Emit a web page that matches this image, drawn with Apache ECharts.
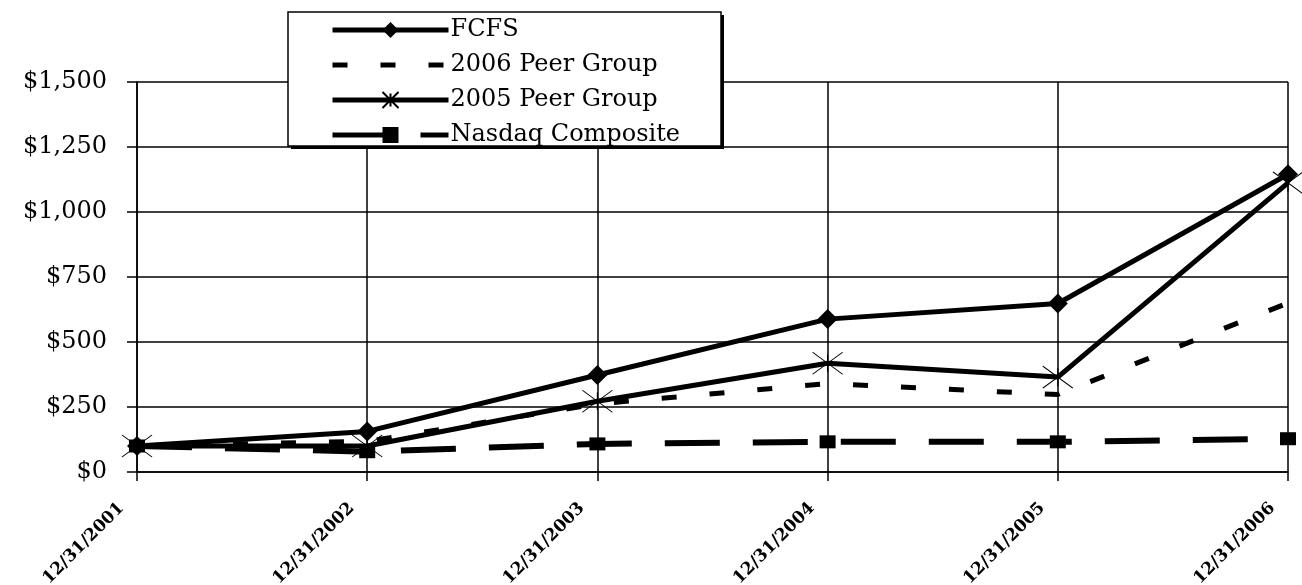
<!DOCTYPE html>
<html><head><meta charset="utf-8">
<script src="https://cdn.jsdelivr.net/npm/echarts@6/dist/echarts.min.js"></script>
<style>html,body{margin:0;padding:0;background:#fff}#c{width:1302px;height:585px}</style>
</head><body><div id="c"></div>
<script>
var categories = ['12/31/2001','12/31/2002','12/31/2003','12/31/2004','12/31/2005','12/31/2006'];
var fcfs = [100, 156, 373, 588, 648, 1145];
var peer2006 = [100, 118, 262, 340, 298, 650];
var peer2005 = [100, 100, 272, 418, 365, 1112];
var nasdaq = [100, 78, 108, 116, 116, 128];
var seriesNames = ['FCFS','2006 Peer Group','2005 Peer Group','Nasdaq Composite'];

var font = '"DejaVu Serif", "Liberation Serif", serif';
var star = 'path://M0,0 L10,10 M10,0 L0,10 M5,1 L5,9';
var chart = echarts.init(document.getElementById('c'));
chart.setOption({
  animation: false,
  backgroundColor: '#fff',
  grid: {left: 137, right: 14, top: 82, bottom: 113, outerBoundsMode: 'none', containLabel: false},
  graphic: [
    {type: 'rect', z: 100, shape: {x: 291, y: 15, width: 433, height: 134}, style: {fill: '#000'}},
    {type: 'rect', z: 101, shape: {x: 288, y: 12, width: 433, height: 134},
      style: {fill: '#fff', stroke: '#000', lineWidth: 1.5}}
  ],
  legend: {
    z: 200,
    orient: 'vertical', left: 330, top: 18,
    itemWidth: 116, itemHeight: 20, itemGap: 11,
    padding: 0,
    textStyle: {fontFamily: font, fontSize: 24, lineHeight: 20, color: '#000', padding: [0,0,0,-3]},
    data: [
      {name: seriesNames[0], lineStyle: {width: 5}},
      {name: seriesNames[1], lineStyle: {width: 5}, itemStyle: {opacity: 0}},
      {name: seriesNames[2], lineStyle: {width: 5}},
      {name: seriesNames[3], lineStyle: {width: 5}}
    ]
  },
  xAxis: {
    type: 'category', data: categories, boundaryGap: false,
    axisLine: {lineStyle: {color: '#000', width: 1.5}},
    axisTick: {show: true, length: 9, lineStyle: {color: '#000', width: 1.5}},
    splitLine: {show: true, lineStyle: {color: '#000', width: 1.5}},
    axisLabel: {rotate: 45, fontFamily: font, fontWeight: 'bold', fontSize: 17, color: '#000',
      margin: 18, padding: [0, 22, 0, 0]}
  },
  yAxis: {
    type: 'value', min: 0, max: 1500, interval: 250,
    axisLine: {show: true, lineStyle: {color: '#000', width: 1.5}},
    axisTick: {show: true, length: 10, lineStyle: {color: '#000', width: 1.5}},
    splitLine: {show: true, lineStyle: {color: '#000', width: 1.5}},
    axisLabel: {fontFamily: font, fontSize: 24, color: '#000', margin: 30,
      formatter: function (v) { return '$' + v.toLocaleString('en-US'); }}
  },
  series: [
    {name: seriesNames[0], type: 'line', data: fcfs, symbol: 'diamond', symbolSize: 20,
      lineStyle: {color: '#000', width: 5}, itemStyle: {color: '#000'}, z: 5},
    {name: seriesNames[1], type: 'line', data: peer2006, symbol: 'none',
      lineStyle: {color: '#000', width: 5, type: [15, 33]}, itemStyle: {color: '#000'}, z: 3},
    {name: seriesNames[2], type: 'line', data: peer2005, symbol: star, symbolSize: [30, 22],
      lineStyle: {color: '#000', width: 5}, itemStyle: {color: '#000', borderColor: '#000', borderWidth: 1}, z: 4},
    {name: seriesNames[3], type: 'line', data: nasdaq, symbol: 'rect', symbolSize: [16, 13],
      lineStyle: {color: '#000', width: 6, type: [55, 33]}, itemStyle: {color: '#000'}, z: 2}
  ]
});
</script></body></html>
